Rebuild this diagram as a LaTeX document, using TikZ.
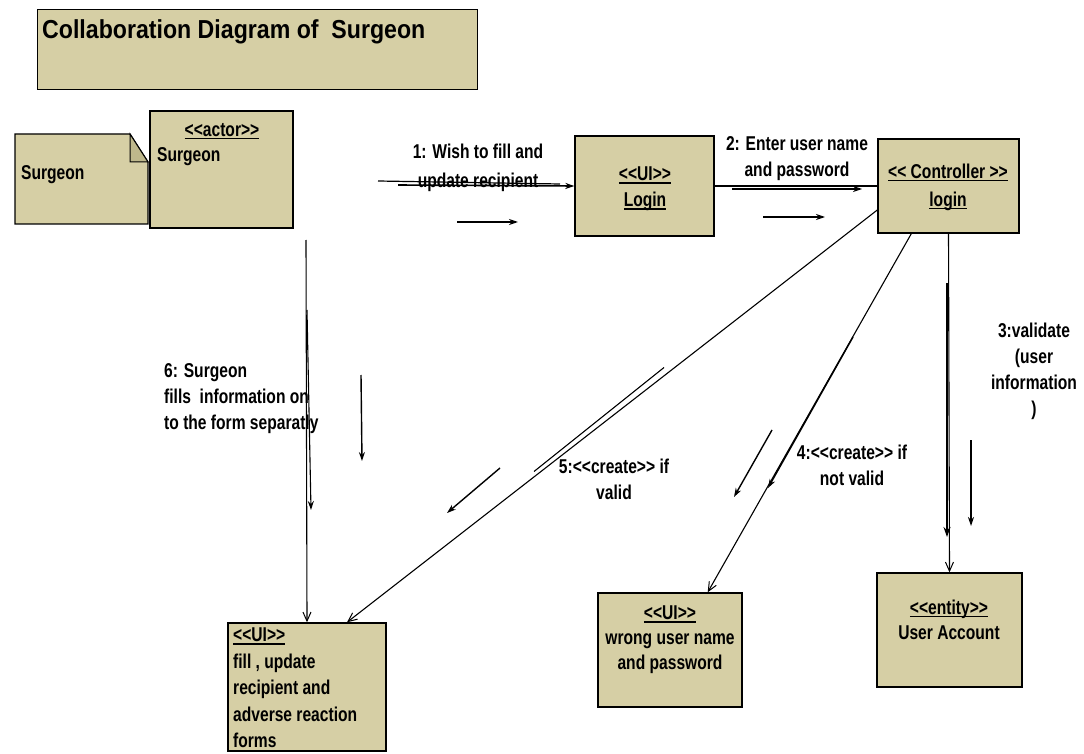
\documentclass[tikz,border=0pt]{standalone}
\usepackage{fontspec}
\newfontfamily\bx{Liberation Sans}[FakeStretch=0.78]
\newfontfamily\tf{Liberation Sans}[FakeStretch=0.89]
\usetikzlibrary{arrows.meta,calc}
\definecolor{tex}{RGB}{214,207,165}
\definecolor{texd}{RGB}{190,184,140}
\newcommand{\uln}[1]{\setbox0\hbox{#1}\rlap{\rule[-2.8pt]{\wd0}{1.4pt}}\box0}
\begin{document}
\begin{tikzpicture}[x=1pt,y=-1pt,
  box/.style={draw=black, line width=1.4pt, fill=tex, inner sep=0pt},
  lab/.style={font=\fontsize{20}{26}\selectfont\bx\bfseries, inner sep=0pt, align=center},
  link/.style={line width=1.1pt},
  barb/.style={-{Straight Barb[length=9pt,width=8pt,line width=1pt]}},
  msg/.style={line width=1.4pt, -{Stealth[length=9pt,width=6pt]}}]
\useasboundingbox (0,0) rectangle (1084,754);

% title
\node[box, minimum width=440pt, minimum height=80pt, anchor=north west] (title) at (37,9) {};
\node[anchor=base west, inner sep=0pt, font=\fontsize{26}{30}\selectfont\tf\bfseries] (ttext) at (42,39) {Collaboration Diagram of~ Surgeon};

% note
\draw[line width=1.3pt, fill=tex] (15,134) -- (130,134) -- (148,162) -- (148,224) -- (15,224) -- cycle;
\draw[line width=1pt, fill=texd] (130,134) -- (148,162) -- (130,162) -- cycle;
\node[lab, anchor=west] (notetxt) at (21,175) {Surgeon};

% actor
\node[box, minimum width=143pt, minimum height=117pt] (actor) at (221.5,169.5) {};
\node[lab] (actst) at (222,131) {\uln{<<actor>>}};
\node[lab, anchor=west] (actname) at (157,157) {Surgeon};

% login
\node[box, minimum width=139pt, minimum height=100pt] (login) at (644.5,186) {};
\node[lab] (logintxt) at (645,189) {\uln{<<UI>>}\\\uln{Login}};

% controller
\node[box, minimum width=141pt, minimum height=94pt] (ctrl) at (948.5,186) {};
\node[lab] (ctrltxt) at (948,187) {\uln{<< Controller >>}\\[2pt]\uln{login}};

% fill form
\node[box, minimum width=158pt, minimum height=128pt] (fill) at (307,687) {};
\node[lab, anchor=north west, align=left, font=\fontsize{20}{26.5}\selectfont\bx\bfseries] (filltxt) at (233,628) {\uln{<<UI>>}\\fill , update\\recipient and\\adverse reaction\\forms};

% wrong
\node[box, minimum width=144pt, minimum height=114pt] (wrong) at (670,650) {};
\node[lab, font=\fontsize{20}{25}\selectfont\bx\bfseries] (wrongtxt) at (670,640) {\uln{<<UI>>}\\wrong user name\\and password};

% account
\node[box, minimum width=145pt, minimum height=114pt] (acct) at (949.5,630) {};
\node[lab, font=\fontsize{20}{25}\selectfont\bx\bfseries] (accttxt) at (949,619.5) {\uln{<<entity>>}\\User Account};

% coordinates
\coordinate (a1) at (378,181);
\coordinate (a1e) at (560,184);
\coordinate (b1) at (398,185);
\coordinate (b2) at (732,189);
\coordinate (b2e) at (862,189);
\coordinate (b3) at (947,283);
\coordinate (b3e) at (947,537);
\coordinate (b4) at (853,337);
\coordinate (b4e) at (768,488);
\coordinate (c5) at (666,370);
\coordinate (c5e) at (536,474);
\coordinate (a6) at (306,240);
\coordinate (b6) at (307,310);
\coordinate (b6e) at (311,510);

% links
\draw[line width=1.2pt] (a1) -- (a1e);
\draw[line width=1.6pt, -{Stealth[length=9pt,width=6pt]}] (b1) -- (login.west);
\draw[link] (login.east) -- (ctrl.west);
\draw[link, -{Stealth[length=9pt,width=6pt]}] (b2) -- (b2e);
\draw[link, barb] (ctrl.south) -- (acct.north);
\draw[line width=2.6pt, -{Stealth[length=10pt,width=7pt]}] (b3) -- (b3e);
\draw[link, barb] ($(ctrl.south west)+(34,0)$) -- ($(wrong.north east)+(-35,0)$);
\draw[line width=1.4pt, -{Stealth[length=9pt,width=6pt]}] (b4) -- (b4e);
\draw[link, barb] ($(ctrl.west)+(0,24)$) -- ($(fill.north)+(40,0)$);
\draw[line width=1.1pt] ($(c5)+(-2,-2.5)$) -- ($(c5e)+(-2,-2.5)$);
\draw[link, barb] (a6) -- (fill.north);
\draw[link, -{Stealth[length=9pt,width=6pt]}] (b6) -- (b6e);

% message arrows
\coordinate (m1s) at (457,222); \coordinate (m1e) at (518,222);
\coordinate (m2s) at (763,217); \coordinate (m2e) at (825,217);
\coordinate (m3s) at (971,440); \coordinate (m3e) at (971,526);
\coordinate (m4s) at (772,430); \coordinate (m4e) at (734,497);
\coordinate (m5s) at (500,468); \coordinate (m5e) at (447,513);
\coordinate (m6s) at (361,375); \coordinate (m6e) at (362,461);
\draw[msg] (m1s) -- (m1e);
\draw[msg] (m2s) -- (m2e);
\draw[msg] (m3s) -- (m3e);
\draw[msg] (m4s) -- (m4e);
\draw[msg] (m5s) -- (m5e);
\draw[msg] (m6s) -- (m6e);

% labels
\node[lab] (l1) at (478,167.5) {1: Wish to fill and\\[3pt]update recipient};
\node[lab] (l2) at (797,159) {2: Enter user name\\and password};
\node[lab] (l3) at (1034,371) {3:validate\\(user\\information\\)};
\node[lab] (l4) at (852,465.5) {4:<<create>> if\\not valid};
\node[lab] (l5) at (614,479) {5:<<create>> if\\valid};
\node[lab, anchor=west, align=left] (l6) at (164,399) {6: Surgeon\\fills~ information on\\to the form separatly};
\end{tikzpicture}
\end{document}
